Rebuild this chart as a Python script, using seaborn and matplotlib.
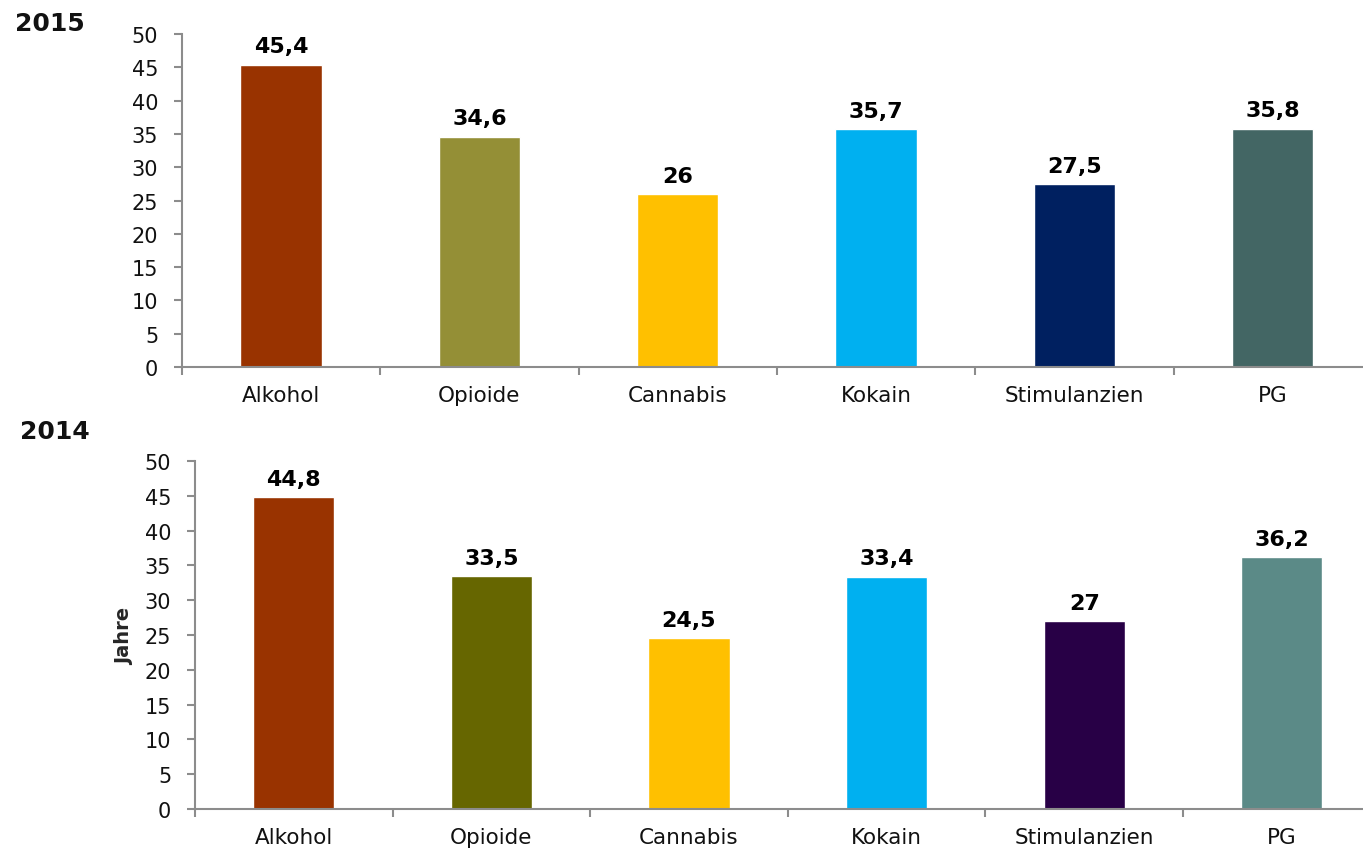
import numpy as np
import pandas as pd
import seaborn as sns
import matplotlib.pyplot as plt

sns.set_style("white")
plt.rcParams['font.family'] = ['DejaVu Sans']

# Data
categories = ["Alkohol", "Opioide", "Cannabis", "Kokain", "Stimulanzien", "PG"]
values_2015 = [45.4, 34.6, 26, 35.7, 27.5, 35.8]
values_2014 = [44.8, 33.5, 24.5, 33.4, 27, 36.2]
colors_2015 = ["#993300", "#948f36", "#ffc000", "#00b0f0", "#002060", "#436664"]
colors_2014 = ["#993300", "#666600", "#ffc000", "#00b0f0", "#280046", "#5b8a87"]
y_ticks = list(range(0, 55, 5))

fig = plt.figure(figsize=(13.63, 8.54), dpi=100, facecolor='white')
ax_top = fig.add_axes([0.1335, 0.569, 0.873, 0.390])
ax_bot = fig.add_axes([0.143, 0.0515, 0.870, 0.4075])

axis_color = "#8c8c8c"


def fmt(v):
    return f"{v:g}".replace(".", ",")


def draw(ax, values, colors):
    df = pd.DataFrame({"cat": categories, "val": values})
    sns.barplot(
        data=df,
        x="cat",
        y="val",
        hue="cat",
        palette=colors,
        width=0.41,
        legend=False,
        saturation=1,
        ax=ax
    )
    for cont in ax.containers:
        ax.bar_label(cont, labels=[fmt(v) for v in cont.datavalues],
                     padding=6, fontsize=16, fontweight='bold', color='black')
    ax.set_xlim(-0.5, 5.5)
    ax.set_ylim(0, 50)
    ax.set_yticks(y_ticks)
    ax.set_xticks(np.arange(-0.5, 5.0, 1.0), minor=True)
    ax.tick_params(axis='x', which='major', length=0, pad=13, labelsize=15.5,
                   labelcolor='#111111')
    ax.tick_params(axis='x', which='minor', length=6, width=1.5,
                   color=axis_color, direction='out')
    ax.tick_params(axis='y', length=6, width=1.5, color=axis_color,
                   direction='out', labelsize=15, pad=11, labelcolor='#111111')
    ax.tick_params(axis='x', bottom=True, which='both')
    ax.tick_params(axis='y', left=True)
    for side in ['top', 'right']:
        ax.spines[side].set_visible(False)
    for side in ['left', 'bottom']:
        ax.spines[side].set_color(axis_color)
        ax.spines[side].set_linewidth(1.5)
    ax.set_xlabel("")
    ax.set_ylabel("")


draw(ax_top, values_2015, colors_2015)
draw(ax_bot, values_2014, colors_2014)

ax_bot.set_ylabel("Jahre", fontsize=14, fontweight='bold', labelpad=8)

fig.text(0.011, 0.972, "2015", fontsize=18, fontweight='bold', va='center',
         color='#111111')
fig.text(0.015, 0.494, "2014", fontsize=18, fontweight='bold', va='center',
         color='#111111')

plt.savefig("out.png", dpi=100, facecolor='white')
